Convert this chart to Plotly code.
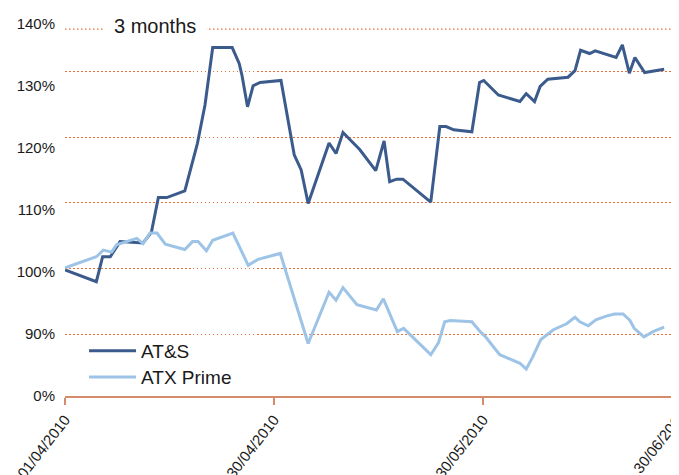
import plotly.graph_objects as go

# ---- data (trading-day offsets from 01/04/2010, performance in %) ----
ats_day = [0, 4.5, 5.4, 6.5, 7.9, 11.2, 12.4, 13.4, 14.6, 17.2, 19.0, 20.1, 21.2, 24.0,
           25.0, 25.4, 26.2, 27.0, 28.0, 31.0, 32.9, 33.9, 34.9, 37.9, 38.9, 39.9, 42.3,
           44.6, 45.8, 46.6, 47.6, 48.5, 52.5, 53.8, 54.7, 55.8, 58.4, 59.5, 60.1, 62.2,
           65.3, 66.2, 67.4, 68.2, 69.3, 72.2, 73.2, 74.0, 75.3, 76.1, 79.1, 80.0, 81.0,
           81.8, 83.2, 86.0]
ats_pct = [99.8, 98.0, 101.8, 101.8, 104.1, 103.9, 105.5, 110.8, 110.8, 111.8, 119.0, 124.9,
           133.6, 133.6, 131.2, 129.4, 124.6, 127.8, 128.3, 128.6, 117.3, 115.0, 109.9, 119.1,
           117.5, 120.7, 118.1, 114.9, 119.4, 113.2, 113.6, 113.6, 110.1, 121.6, 121.6, 121.1,
           120.8, 128.3, 128.6, 126.4, 125.4, 126.6, 125.4, 127.7, 128.8, 129.1, 130.1, 133.2,
           132.7, 133.1, 132.1, 134.0, 129.7, 132.1, 129.8, 130.3]

atx_day = [0, 4.5, 5.5, 6.7, 7.4, 10.3, 11.2, 12.2, 13.2, 14.4, 17.2, 18.3, 19.1, 20.3,
           21.2, 24.1, 26.3, 27.7, 30.9, 32.8, 34.0, 34.9, 37.9, 38.9, 39.9, 41.9, 44.7,
           45.7, 47.7, 48.6, 52.5, 53.6, 54.5, 55.3, 58.4, 59.6, 60.3, 62.4, 65.3, 66.2,
           67.1, 68.3, 70.1, 72.0, 73.2, 73.9, 75.1, 76.2, 77.8, 78.9, 80.1, 81.1, 81.7,
           83.1, 84.4, 86.0]
atx_pct = [100.1, 101.8, 102.8, 102.5, 103.6, 104.6, 103.8, 105.4, 105.4, 103.7, 102.9, 104.1,
           104.1, 102.7, 104.3, 105.4, 100.5, 101.4, 102.3, 95.7, 91.9, 88.6, 96.4, 95.2, 97.1,
           94.5, 93.7, 95.4, 90.4, 90.9, 86.9, 88.7, 91.9, 92.1, 91.9, 90.4, 89.7, 86.9, 85.6,
           84.7, 86.5, 89.2, 90.7, 91.6, 92.6, 91.9, 91.3, 92.2, 92.8, 93.1, 93.1, 92.1, 90.9,
           89.6, 90.4, 91.1]

x_tick_days = [0, 30, 60, 90]
x_tick_labels = ["01/04/2010", "30/04/2010", "30/05/2010", "30/06/2010"]
y_label_slots = [0, 1, 2, 3, 4, 5, 6]
y_label_texts = ["0%", "90%", "100%", "110%", "120%", "130%", "140%"]
grid_pct = [90, 100, 110, 120, 130]
top_rule_pct = 136.4
title_text = "3 months"

# ---- styling ----
FONT = "Arial, 'Liberation Sans', sans-serif"
GRID = "#E8703A"
AXIS = "#D68A6C"
X_RANGE = [0, 88.13]
Y_RANGE = [80.62, 139.32]
DOTS = "1.5px,2.5px"

fig = go.Figure()
fig.add_trace(go.Scatter(x=ats_day, y=ats_pct, mode="lines", name="AT&S",
                         line=dict(color="#3B5B8C", width=3), legend="legend"))
fig.add_trace(go.Scatter(x=atx_day, y=atx_pct, mode="lines", name="ATX Prime",
                         line=dict(color="#9DC3E6", width=3), legend="legend2"))
# invisible trace to carry the label axis
fig.add_trace(go.Scatter(x=[None], y=[None], yaxis="y2", showlegend=False, hoverinfo="skip"))

shown = [(d, t) for d, t in zip(x_tick_days, x_tick_labels) if X_RANGE[0] <= d <= X_RANGE[1]]
hidden = [(d, t) for d, t in zip(x_tick_days, x_tick_labels) if d > X_RANGE[1]]

legend_style = dict(xanchor="left", yanchor="middle", bgcolor="rgba(0,0,0,0)",
                    font=dict(size=19, color="#1a1a1a"), itemwidth=47)

fig.update_layout(
    width=671, height=467,
    margin=dict(l=57, r=0, t=2, b=79),
    paper_bgcolor="white", plot_bgcolor="white",
    font=dict(family=FONT, color="#1a1a1a"),
    xaxis=dict(range=X_RANGE, showgrid=False, zeroline=False,
               showline=True, linecolor=AXIS, linewidth=2,
               ticks="outside", ticklen=7, tickwidth=2, tickcolor=AXIS,
               tickvals=[d for d, _ in shown], ticktext=[t for _, t in shown],
               tickangle=-52, tickfont=dict(size=15, color="#1a1a1a"),
               ticklabeloverflow="allow", automargin=False),
    yaxis=dict(range=Y_RANGE, showticklabels=False, zeroline=False, showline=False,
               tickvals=grid_pct, showgrid=True, gridcolor=GRID, griddash=DOTS,
               gridwidth=1.2, ticks=""),
    yaxis2=dict(overlaying="y", side="left", range=[-0.01, 6.23], showgrid=False,
                zeroline=False, showline=False, ticks="",
                tickvals=y_label_slots, ticktext=y_label_texts,
                tickfont=dict(size=15, color="#1a1a1a"), ticklabelstandoff=9,
                automargin=False),
    legend=dict(x=0.031, y=0.117, **legend_style),
    legend2=dict(x=0.031, y=0.049, **legend_style),
    showlegend=True,
)

fig.add_shape(type="line", xref="paper", x0=0, x1=1, yref="y", y0=top_rule_pct, y1=top_rule_pct,
              line=dict(color=GRID, width=1.2, dash=DOTS), layer="below")

fig.add_annotation(text=title_text, xref="paper", yref="y", x=0.146, y=top_rule_pct,
                   xanchor="center", yanchor="middle", yshift=3,
                   showarrow=False, font=dict(size=20, color="#1a1a1a"),
                   bgcolor="white", borderpad=10)

for d, t in hidden:
    xp = (d - X_RANGE[0]) / (X_RANGE[1] - X_RANGE[0])
    fig.add_annotation(text=t, xref="paper", yref="paper", x=xp, y=0,
                       xanchor="right", yanchor="top", textangle=-52, showarrow=False,
                       font=dict(size=15, color="#1a1a1a"), yshift=-8)

fig.write_html("out.html")
